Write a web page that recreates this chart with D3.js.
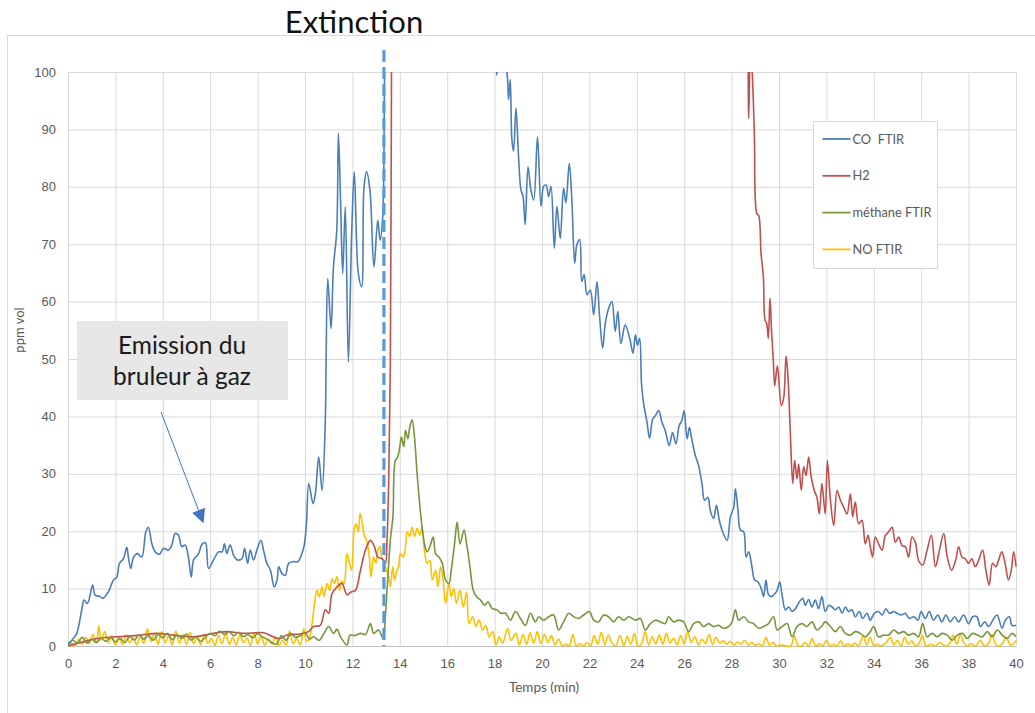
<!DOCTYPE html>
<html>
<head>
<meta charset="utf-8">
<script src="https://cdn.jsdelivr.net/npm/d3@7"></script>
<style>
  body { margin: 0; background: #fff; }
  svg { display: block; font-family: Lato, "Open Sans", sans-serif; }
</style>
</head>
<body>
<svg id="chart" width="1035" height="713"></svg>
<script>
// x in minutes, y in ppm vol
const xTicks = d3.range(0, 41, 2);
const yTicks = d3.range(0, 101, 10);
const extinctionTime = 13.33;

const coFtir = [
  [0,0.2],[0.2,1.2],[0.37,2.2],[0.58,6.3],[0.68,8],[0.82,7.4],[1.04,10.6],[1.14,8.9],[1.35,8.6],[1.46,8.3],
  [1.7,9.4],[1.92,11.5],[2.06,12],[2.17,14.4],[2.34,15.2],[2.48,17.2],[2.55,15.4],[2.65,13.5],[2.76,15.4],[2.93,16.1],
  [3.11,15.5],[3.28,19.8],[3.39,20.7],[3.54,17.8],[3.68,16.4],[3.86,16],[4.03,17],[4.24,16.7],[4.38,17.6],[4.52,19.6],
  [4.66,19.3],[4.8,17.3],[4.94,17.6],[5.08,15.5],[5.2,12],[5.3,15],[5.51,16.1],[5.65,17.7],[5.8,18],[5.93,13.5],
  [6.14,15],[6.35,16.4],[6.5,16.4],[6.6,17.8],[6.7,16.1],[6.84,17.6],[6.99,15.8],[7.15,15],[7.34,15.2],[7.45,17],
  [7.58,14.4],[7.69,16.7],[7.83,15],[7.97,16.7],[8.14,18.4],[8.25,16.7],[8.39,14.4],[8.54,13.2],[8.7,10.3],[8.82,11.5],
  [8.89,13.8],[9.03,12.6],[9.17,12.3],[9.31,14.4],[9.52,14.7],[9.7,14.7],[9.87,16.1],[9.97,17.6],[10.06,21.3],[10.16,28.3],
  [10.34,24.8],[10.44,26.6],[10.58,32.9],[10.72,27.1],[10.86,39.9],[10.89,49.8],[10.96,64],[11.1,55.3],[11.2,66],[11.34,72.4],
  [11.41,89.3],[11.5,77.7],[11.59,64.9],[11.7,76.5],[11.83,49.5],[11.97,71.9],[12.08,82.6],[12.25,64.9],[12.39,62.6],[12.49,80],
  [12.6,82.6],[12.74,79.4],[12.91,66],[13.07,74.2],[13.17,70.7],[13.28,74.8],[13.36,100],[13.5,125],[18,108],[18.09,99.5],
  [18.2,106],[18.52,100],[18.59,95.2],[18.66,98.7],[18.73,88.2],[18.8,86.2],[18.9,93.7],[19.01,85.3],[19.11,79.5],[19.2,78.3],
  [19.29,73.4],[19.41,83.5],[19.53,79.5],[19.65,77.7],[19.81,88.7],[19.96,76.6],[20.07,80.1],[20.17,80.3],[20.28,78.3],[20.38,80.1],
  [20.52,69.3],[20.63,76.6],[20.77,71],[20.91,79.8],[21.01,77.2],[21.15,84.1],[21.26,77.7],[21.38,66.7],[21.47,69.9],[21.59,70.8],
  [21.68,63.5],[21.78,64.7],[21.9,61.2],[22.04,62],[22.18,57.7],[22.32,63.5],[22.43,57.4],[22.56,51.9],[22.67,56.2],[22.81,58.8],
  [22.95,60],[23.09,54.8],[23.2,58.3],[23.33,52.7],[23.51,55.9],[23.7,53.6],[23.84,51],[23.94,54.2],[24.03,52.4],[24.12,53.6],
  [24.2,45.6],[24.29,42.2],[24.43,39],[24.54,36.2],[24.67,39.5],[24.78,40.1],[24.92,41],[25.06,39],[25.2,37.5],[25.37,34.9],
  [25.51,37.2],[25.65,35.2],[25.79,38.4],[25.9,39.3],[26,41],[26.12,36.1],[26.22,38.1],[26.33,35.8],[26.47,33.2],[26.61,31.4],
  [26.75,28.3],[26.86,25.4],[27,25.9],[27.1,23.6],[27.24,22.2],[27.36,24.5],[27.48,21.9],[27.62,19.9],[27.81,18.4],[27.95,22.5],
  [28.09,24.2],[28.16,27.4],[28.27,23.6],[28.37,20.2],[28.51,19.9],[28.61,15.5],[28.72,16.4],[28.86,13.8],[28.97,11.5],[29.11,11.2],
  [29.25,10],[29.35,8.6],[29.45,11.5],[29.56,8.9],[29.68,8.6],[29.82,9.1],[29.92,9.7],[30.03,11.2],[30.13,8.9],[30.27,6.3],
  [30.41,6.8],[30.55,6],[30.69,6.5],[30.86,7.7],[31,8.3],[31.11,7.1],[31.25,8.1],[31.39,6.8],[31.53,8],[31.67,6.5],
  [31.81,8.6],[31.95,6],[32.1,7.1],[32.24,6.8],[32.38,6.3],[32.52,6.8],[32.66,5.7],[32.8,6.8],[32.94,6],[33.08,6.3],
  [33.22,5.1],[33.39,6],[33.53,4.8],[33.71,5.7],[33.85,4.5],[34.02,5.7],[34.2,6],[34.35,5.4],[34.51,6.5],[34.65,5.7],
  [34.84,6],[34.98,5.7],[35.16,5.4],[35.33,5.7],[35.5,4.8],[35.68,5.1],[35.86,4.5],[36,6],[36.17,4.8],[36.34,6],
  [36.52,4.5],[36.7,5.4],[36.87,4.2],[37.04,5.4],[37.22,4.2],[37.41,5.1],[37.58,4.2],[37.79,5.4],[38,3.9],[38.17,5.1],
  [38.35,5.1],[38.5,3.4],[38.68,4.2],[38.85,3.4],[39.02,4.5],[39.2,5.4],[39.41,3.1],[39.55,4.5],[39.72,5.1],[39.83,3.6],[40,3.6]
];

const h2 = [
  [0,0],[0.65,0.75],[1.21,1.3],[2.06,1.6],[3.04,1.9],[3.75,2.2],[4.45,1.9],[5.3,1.6],[6,2.1],[6.7,2.5],
  [7.4,2.2],[8.25,2.3],[8.66,1.6],[8.95,1.3],[9.23,1.9],[9.8,2.1],[10.15,2.5],[10.36,3.4],[10.64,3.6],[10.86,6.3],
  [11,5.7],[11.14,9.1],[11.35,10.3],[11.56,10.9],[11.77,8.9],[11.94,9.4],[12.13,9.7],[12.34,13.2],[12.55,16.7],[12.76,18.4],
  [12.93,17.3],[13.07,15.5],[13.25,15.2],[13.39,14.4],[13.46,18.4],[13.53,28.3],[13.6,48.6],[13.65,100],[13.7,140],[28.6,140],
  [28.7,100],[28.72,91.9],[28.8,104],[28.87,100],[28.96,89.3],[29.06,75.4],[29.15,74.9],[29.24,68.5],[29.34,64.3],[29.41,56.8],
  [29.48,56.2],[29.55,53.6],[29.62,60.6],[29.69,54.5],[29.76,49.8],[29.82,45.3],[29.93,48.8],[30.1,41.9],[30.2,43.3],[30.3,50.5],
  [30.38,46.8],[30.48,36.9],[30.58,28.3],[30.66,32.3],[30.76,29.1],[30.83,31.7],[30.94,27.1],[31.04,31.2],[31.14,29.7],[31.25,32.9],
  [31.36,29.4],[31.49,27.1],[31.6,25.9],[31.7,23],[31.81,28.3],[31.95,23],[32.04,32.3],[32.17,25.4],[32.31,21],[32.45,27.1],
  [32.59,25.4],[32.73,24.2],[32.87,23],[33.01,26.5],[33.11,22.5],[33.22,25.1],[33.36,21.3],[33.5,21.9],[33.64,17.8],[33.76,19.3],
  [33.85,17.3],[33.95,15.5],[34.06,19],[34.2,17.8],[34.35,16.7],[34.49,19.3],[34.63,19.9],[34.77,20.7],[34.91,18.1],[35.05,19],
  [35.19,17.5],[35.33,17.3],[35.47,15.5],[35.61,19],[35.75,18.1],[35.89,14.9],[36.06,14.1],[36.25,16.7],[36.43,19.3],[36.6,13.8],
  [36.77,16.7],[36.95,19.6],[37.1,15.5],[37.28,13.2],[37.45,14.9],[37.58,17.3],[37.72,15.5],[37.86,15.2],[38,14.4],[38.14,15.2],
  [38.28,13.8],[38.42,14.9],[38.59,16.7],[38.73,13.2],[38.87,10.6],[39.01,14.4],[39.15,13.8],[39.26,14.9],[39.4,16.4],[39.54,14.4],
  [39.68,11.5],[39.8,13.2],[39.9,16.4],[40,13.8]
];

const methaneFtir = [
  [0,0.3],[0.2,1],[0.4,0.5],[0.6,1.5],[0.8,0.5],[1,1.2],[1.2,0.6],[1.4,1.4],[1.6,0.8],[1.8,1.5],
  [2,0.7],[2.2,1.3],[2.4,0.6],[2.6,1.6],[2.8,1],[3,2],[3.2,1.2],[3.4,1.8],[3.6,1],[3.8,2],
  [4,1.4],[4.2,2.2],[4.4,1.1],[4.6,1.9],[4.8,1.3],[5,2.1],[5.2,1],[5.4,1.6],[5.6,0.8],[5.8,1.5],
  [6,2.2],[6.2,1.8],[6.4,2.6],[6.6,2],[6.8,2.5],[7,1.8],[7.2,2.4],[7.4,1.6],[7.6,2],[7.8,1.4],
  [8,2.2],[8.2,1.6],[8.4,1.2],[8.6,0.6],[8.8,0.3],[9,1.8],[9.2,1],[9.4,2.2],[9.6,1.5],[9.8,1.8],
  [10,2.3],[10.2,1.2],[10.36,1.6],[10.6,1],[10.8,2.2],[11,3.4],[11.2,2.2],[11.35,2.9],[11.5,1.6],[11.77,0.2],
  [11.9,1.9],[12.1,1.8],[12.34,2.2],[12.55,2],[12.76,3.9],[12.9,2.2],[13.1,2.8],[13.3,1.3],[13.39,5.1],[13.46,9.7],
  [13.6,18.4],[13.71,22.5],[13.81,32.3],[13.91,32.9],[14,34.7],[14.07,36.4],[14.17,34.7],[14.24,37.6],[14.34,36.1],[14.42,38.1],
  [14.52,39.4],[14.62,36.4],[14.73,30],[14.85,24.2],[14.94,20.7],[15.04,17.8],[15.15,16.4],[15.27,17.3],[15.41,19],[15.51,16.1],
  [15.65,15.5],[15.79,14.4],[15.93,11.5],[16.07,10.9],[16.17,13.2],[16.31,17.8],[16.42,21.6],[16.54,17.8],[16.71,20.2],[16.82,17.8],
  [16.96,13.8],[17.1,9.7],[17.24,8.6],[17.41,8],[17.58,7.1],[17.72,7.7],[17.9,6.5],[18.11,6.3],[18.25,5.7],[18.46,5.7],
  [18.67,4.5],[18.88,6],[19.09,4.8],[19.3,3.6],[19.51,5.7],[19.72,4.2],[19.86,5.1],[20.07,4.5],[20.28,5.1],[20.49,5.4],
  [20.7,2.8],[20.91,4.2],[21.13,5.7],[21.34,5.1],[21.55,4.8],[21.76,5.4],[22,6],[22.18,4.5],[22.39,4.2],[22.6,5.4],
  [22.81,5.1],[23.02,4.2],[23.23,5.1],[23.45,4.5],[23.66,5.1],[23.94,4.5],[24.15,4.8],[24.36,2.8],[24.57,3.9],[24.78,4.5],
  [25,4.2],[25.2,3.9],[25.34,5.1],[25.55,4.2],[25.77,4.5],[25.98,4.2],[26.19,2.5],[26.4,3.9],[26.61,4.2],[26.82,3.4],
  [27.03,3.9],[27.24,3.4],[27.45,3.6],[27.67,3.1],[27.88,3.4],[28.02,4.2],[28.16,6.3],[28.3,4.5],[28.51,5.1],[28.72,4.2],
  [28.93,3.9],[29.14,3.1],[29.35,3.4],[29.56,3.9],[29.77,5.1],[29.92,2.8],[30.13,3.4],[30.34,3.9],[30.55,1.6],[30.76,3.4],
  [30.97,3.9],[31.18,3.4],[31.39,4.2],[31.6,2.8],[31.79,3.4],[31.95,4.2],[32.17,3.4],[32.38,2.5],[32.59,3.4],[32.8,2.2],
  [33.01,1.9],[33.22,2.5],[33.43,2.2],[33.64,1.6],[33.85,2.5],[33.99,3.4],[34.2,1.6],[34.42,1.9],[34.63,1.9],[34.84,2.8],
  [35.05,2.2],[35.26,2.5],[35.47,1.9],[35.68,2.2],[35.89,1.6],[36.06,3.9],[36.25,1.6],[36.46,2.2],[36.67,1.6],[36.88,2.2],
  [37.1,1.9],[37.31,1],[37.52,1.9],[37.73,2.2],[37.94,1.3],[38.16,2.2],[38.37,1.9],[38.58,1.6],[38.79,2.5],[39,1.6],
  [39.21,2.8],[39.42,1.9],[39.63,1.3],[39.83,2.2],[40,1.6]
];

const noFtir = [
  [0,0],[0.15,0.5],[0.3,0],[0.45,1.2],[0.6,0.3],[0.75,1.5],[0.9,0.4],[1.05,2],[1.2,0.5],[1.3,3.5],
  [1.4,1],[1.55,2.5],[1.7,0.5],[1.85,1.8],[2,0.2],[2.15,1.5],[2.3,0.3],[2.45,1.9],[2.6,0.6],[2.75,1.4],
  [2.9,0.2],[3.05,1.7],[3.2,0.5],[3.35,3],[3.5,0.8],[3.65,2.2],[3.8,0.3],[3.95,2.5],[4.1,0.6],[4.25,1.8],
  [4.4,0.2],[4.55,2.6],[4.7,0.5],[4.85,2],[5,0.3],[5.15,2.4],[5.3,0.4],[5.45,1.6],[5.6,0.2],[5.75,2.1],
  [5.9,0.5],[6.05,1.3],[6.2,0.1],[6.35,1.8],[6.5,0.4],[6.65,2.2],[6.8,0.3],[6.95,1.5],[7.1,0.2],[7.25,2],
  [7.4,0.6],[7.55,1.4],[7.7,0.1],[7.85,2.3],[8,0.4],[8.15,1.7],[8.3,0.2],[8.45,1.2],[8.6,0.3],[8.75,1.6],
  [8.9,0.1],[9.05,1],[9.2,0.2],[9.35,2.6],[9.5,0.4],[9.65,1.3],[9.8,0.2],[9.95,3],[10.05,1],[10.15,1],
  [10.3,3.9],[10.4,7.4],[10.5,9.7],[10.6,8.6],[10.72,10.3],[10.8,8.6],[10.93,10.9],[11.04,9.7],[11.14,11.7],[11.25,10.9],
  [11.35,12.1],[11.46,9.7],[11.55,11.3],[11.65,10.9],[11.77,16.1],[11.88,14.4],[11.97,13.2],[12.07,20.2],[12.15,21.3],[12.25,19.9],
  [12.32,23.1],[12.42,21.3],[12.5,19.3],[12.6,18.4],[12.7,16.1],[12.79,12.1],[12.89,15.5],[12.99,14.4],[13.07,16.7],[13.17,17.3],
  [13.24,15.5],[13.32,14.9],[13.43,13.2],[13.53,12.1],[13.6,10.3],[13.7,13.8],[13.78,11.5],[13.88,13.2],[13.95,13.8],[14.02,16.1],
  [14.14,15.5],[14.24,17.3],[14.31,19.9],[14.42,19.1],[14.52,20.7],[14.62,19.1],[14.73,20.5],[14.85,19.3],[14.94,20.7],[15.04,16.7],
  [15.15,14.4],[15.27,14.9],[15.37,11.5],[15.51,13.2],[15.61,10.3],[15.72,13.8],[15.83,11.5],[15.93,7.4],[16.07,10.9],[16.17,8.6],
  [16.28,10],[16.39,7.4],[16.54,9.7],[16.68,6.8],[16.82,9.4],[16.92,3.9],[17.07,5.1],[17.21,3.4],[17.35,4.5],[17.49,2.8],
  [17.63,3.6],[17.77,1.6],[17.92,2.5],[18.06,0.2],[18.2,1.6],[18.34,0.5],[18.55,3.1],[18.69,1],[18.9,2.2],[19.04,0.2],
  [19.2,2],[19.35,0.3],[19.5,2.3],[19.65,0.5],[19.8,2.5],[19.95,0.4],[20.1,2],[20.25,0.6],[20.4,1.8],[20.55,0.2],
  [20.7,1.2],[20.85,0],[21,0.3],[21.15,0],[21.3,2],[21.45,0],[21.6,0.4],[21.75,0],[21.9,0.6],[22.05,0],
  [22.2,1.8],[22.35,0.3],[22.5,2.4],[22.65,0.2],[22.8,1.9],[22.95,0.5],[23.1,0],[23.3,1.8],[23.45,0],[23.6,1.7],
  [23.75,0.3],[23.9,2.2],[24.05,0],[24.2,0.4],[24.35,2.5],[24.5,0.2],[24.65,1.6],[24.8,0.4],[24.95,1.9],[25.1,0.3],
  [25.25,2.2],[25.4,0.5],[25.55,1.4],[25.7,0.2],[25.85,1.8],[26,0.4],[26.15,2.5],[26.3,0.6],[26.45,1.6],[26.6,0.2],
  [26.75,1.2],[26.9,0.4],[27.05,2],[27.2,0.3],[27.35,1.5],[27.5,0.5],[27.65,0.9],[27.8,0.3],[27.95,0.8],[28.1,0.2],
  [28.25,0.7],[28.4,0.3],[28.55,1],[28.7,0.2],[28.85,0.6],[29.0,0.1],[29.15,0.4],[29.3,0],[29.45,1.5],[29.6,0.2],
  [29.75,0.6],[29.9,0],[30.1,0.2],[30.3,0],[30.5,0],[30.65,1.7],[30.8,0.1],[30.95,0],[31.1,0.6],[31.25,0],
  [31.4,1.3],[31.55,0],[31.7,0.4],[31.85,0],[32,1],[32.15,0],[32.3,0.3],[32.45,0],[32.6,0.9],[32.75,0],
  [32.9,0.4],[33.05,0],[33.2,0.5],[33.35,0],[33.55,1.7],[33.7,0.2],[33.85,1.5],[34,0],[34.15,0.3],[34.3,0],
  [34.5,0.5],[34.7,1.5],[34.85,0.2],[35,1],[35.15,0],[35.3,1.5],[35.45,0.3],[35.6,0.9],[35.75,0],[35.9,0.4],
  [36.05,1.8],[36.2,0],[36.4,0.3],[36.6,0],[36.8,0.6],[37,0],[37.2,0.4],[37.35,1.9],[37.5,0.3],[37.65,2],
  [37.8,0.5],[37.95,0],[38.1,0.4],[38.3,0],[38.5,1],[38.65,0],[38.85,0.5],[39,2],[39.15,0.2],[39.3,0],
  [39.45,0.6],[39.6,1.5],[39.75,0.2],[39.9,0.4],[40,1]
];

const series = [
  { name: 'CO  FTIR', data: coFtir, color: '#4a7ebb' },
  { name: 'H2', data: h2, color: '#c0504d' },
  { name: 'méthane FTIR', data: methaneFtir, color: '#77963c' },
  { name: 'NO FTIR', data: noFtir, color: '#ffc000' }
];
// draw order: yellow behind, then red/green, blue on top
const drawOrder = ['NO FTIR', 'H2', 'méthane FTIR', 'CO  FTIR'];

const svg = d3.select('#chart');
const margin = { top: 72, right: 19, bottom: 67, left: 68 };
const W = 1035, H = 713;

const x = d3.scaleLinear().domain([0, 40]).range([margin.left, W - margin.right]);
const y = d3.scaleLinear().domain([0, 100]).range([H - margin.bottom, margin.top]);

// outer chart frame
svg.append('rect')
  .attr('x', 7.5).attr('y', 35.5)
  .attr('width', 1060).attr('height', 720)
  .attr('fill', '#fff')
  .attr('stroke', '#d9d9d9');

// grid
svg.append('g')
  .attr('transform', `translate(0,${y(0)})`)
  .call(d3.axisBottom(x).tickValues(xTicks).tickSize(-(y(0) - y(100))).tickFormat(''))
  .call(g => g.select('.domain').remove())
  .call(g => g.selectAll('line').attr('stroke', '#d9d9d9'));

svg.append('g')
  .attr('transform', `translate(${x(0)},0)`)
  .call(d3.axisLeft(y).tickValues(yTicks).tickSize(-(x(40) - x(0))).tickFormat(''))
  .call(g => g.select('.domain').remove())
  .call(g => g.selectAll('line').attr('stroke', '#d9d9d9'));

// tick labels
svg.append('g')
  .attr('transform', `translate(0,${y(0)})`)
  .call(d3.axisBottom(x).tickValues(xTicks).tickSize(0).tickPadding(13))
  .call(g => g.select('.domain').attr('stroke', '#bfbfbf'))
  .call(g => g.selectAll('text').attr('fill', '#595959').style('font-size', '13px'));

svg.append('g')
  .attr('transform', `translate(${x(0)},0)`)
  .call(d3.axisLeft(y).tickValues(yTicks).tickSize(0).tickPadding(12))
  .call(g => g.select('.domain').remove())
  .call(g => g.selectAll('text').attr('fill', '#595959').style('font-size', '13px'));

// axis titles
svg.append('text')
  .attr('x', x(20) + 2).attr('y', 692)
  .attr('text-anchor', 'middle')
  .attr('fill', '#595959')
  .style('font-size', '13.5px')
  .text('Temps (min)');

svg.append('text')
  .attr('transform', 'translate(24,330) rotate(-90)')
  .attr('text-anchor', 'middle')
  .attr('fill', '#595959')
  .style('font-size', '13px')
  .text('ppm vol');

// clip
svg.append('clipPath').attr('id', 'plot-clip')
  .append('rect')
  .attr('x', x(0)).attr('y', y(100))
  .attr('width', x(40) - x(0) + 2).attr('height', y(0) - y(100) + 2);

const line = d3.line()
  .curve(d3.curveCatmullRom.alpha(0.5))
  .x(d => x(d[0]))
  .y(d => y(d[1]));

const plot = svg.append('g').attr('clip-path', 'url(#plot-clip)');
drawOrder.forEach(name => {
  const s = series.find(d => d.name === name);
  plot.append('path')
    .datum(s.data)
    .attr('fill', 'none')
    .attr('stroke', s.color)
    .attr('stroke-width', 1.6)
    .attr('stroke-linejoin', 'round')
    .attr('d', line);
});

// extinction marker
svg.append('line')
  .attr('x1', x(extinctionTime)).attr('x2', x(extinctionTime))
  .attr('y1', 50).attr('y2', y(0))
  .attr('stroke', '#5b9bd5')
  .attr('stroke-width', 3.2)
  .attr('stroke-dasharray', '12,5');

svg.append('text')
  .attr('x', 354).attr('y', 33)
  .attr('text-anchor', 'middle')
  .attr('fill', '#111')
  .style('font-size', '31px')
  .text('Extinction');

// legend
const legend = svg.append('g').attr('transform', 'translate(813.5,121.5)');
legend.append('rect')
  .attr('width', 124).attr('height', 147)
  .attr('fill', '#fff')
  .attr('stroke', '#d9d9d9');
series.forEach((s, i) => {
  const ly = 17.5 + i * 36.8;
  legend.append('line')
    .attr('x1', 9).attr('x2', 37)
    .attr('y1', ly).attr('y2', ly)
    .attr('stroke', s.color)
    .attr('stroke-width', 1.8);
  legend.append('text')
    .attr('x', 39).attr('y', ly + 4.5)
    .attr('fill', '#595959')
    .style('font-size', '12.8px')
    .style('white-space', 'pre')
    .text(s.name);
});

// annotation
svg.append('rect')
  .attr('x', 77).attr('y', 321)
  .attr('width', 211).attr('height', 79)
  .attr('fill', '#e7e7e7');

svg.append('text')
  .attr('x', 182).attr('y', 354)
  .attr('text-anchor', 'middle')
  .attr('fill', '#1a1a1a')
  .style('font-size', '24.5px')
  .text('Emission du');
svg.append('text')
  .attr('x', 182).attr('y', 385)
  .attr('text-anchor', 'middle')
  .attr('fill', '#1a1a1a')
  .style('font-size', '24.5px')
  .text('bruleur à gaz');

svg.append('defs').append('marker')
  .attr('id', 'arrowhead')
  .attr('viewBox', '0 0 10 10')
  .attr('refX', 9).attr('refY', 5)
  .attr('markerWidth', 14).attr('markerHeight', 14)
  .attr('markerUnits', 'userSpaceOnUse')
  .attr('orient', 'auto')
  .append('path')
  .attr('d', 'M0,0 L10,5 L0,10 Z')
  .attr('fill', '#4472c4');

svg.append('line')
  .attr('x1', 161).attr('y1', 412)
  .attr('x2', 203).attr('y2', 522)
  .attr('stroke', '#4472c4')
  .attr('stroke-width', 1)
  .attr('marker-end', 'url(#arrowhead)');
</script>
</body>
</html>
